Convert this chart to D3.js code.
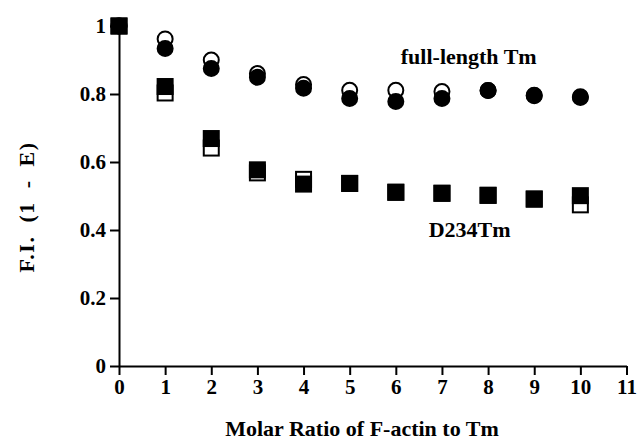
<!DOCTYPE html>
<html>
<head>
<meta charset="utf-8">
<script src="https://cdn.jsdelivr.net/npm/d3@7"></script>
<style>
  body { margin: 0; background: #fff; }
  text { font-family: "Liberation Serif", "Times New Roman", serif; font-weight: bold; }
</style>
</head>
<body>
<svg id="svg"></svg>
<script>
/**
 * CONSTANTS AND GLOBALS
 * */
const width = 637,
  height = 442,
  margin = { top: 26, bottom: 76, left: 119, right: 10 };

// molar ratio of F-actin to Tm
const ratio = [0, 1, 2, 3, 4, 5, 6, 7, 8, 9, 10];
// full-length Tm, open and filled circles
const fullOpen = [1.0, 0.962, 0.9, 0.86, 0.828, 0.811, 0.811, 0.807, 0.81, 0.795, 0.79];
const fullFilled = [1.0, 0.934, 0.875, 0.849, 0.817, 0.787, 0.778, 0.787, 0.81, 0.796, 0.792];
// D234Tm, open and filled squares
const d234Open = [1.0, 0.803, 0.641, 0.568, 0.549, 0.537, 0.511, 0.508, 0.502, 0.491, 0.474];
const d234Filled = [1.0, 0.822, 0.669, 0.577, 0.535, 0.537, 0.511, 0.508, 0.502, 0.491, 0.501];

const xTicks = [0, 1, 2, 3, 4, 5, 6, 7, 8, 9, 10, 11];
const yTicks = [0, 0.2, 0.4, 0.6, 0.8, 1];

const svg = d3.select("#svg")
  .attr("width", width)
  .attr("height", height);

const xScale = d3.scaleLinear()
  .domain([0, 11])
  .range([margin.left, width - margin.right - 0.5]);

const yScale = d3.scaleLinear()
  .domain([0, 1])
  .range([height - margin.bottom, margin.top]);

// axes
const xAxis = d3.axisBottom(xScale)
  .tickValues(xTicks)
  .tickFormat(d => d)
  .tickSize(9)
  .tickSizeOuter(0)
  .tickPadding(4);

const yAxis = d3.axisLeft(yScale)
  .tickValues(yTicks)
  .tickFormat(d => String(d))
  .tickSize(9)
  .tickSizeOuter(0)
  .tickPadding(4);

const gx = svg.append("g")
  .attr("transform", `translate(0,${yScale(0)})`)
  .call(xAxis);

const gy = svg.append("g")
  .attr("transform", `translate(${xScale(0)},0)`)
  .call(yAxis);

[gx, gy].forEach(g => {
  g.select(".domain").attr("stroke", "#000").attr("stroke-width", 2);
  g.selectAll(".tick line").attr("stroke", "#000").attr("stroke-width", 2);
  g.selectAll(".tick text")
    .attr("fill", "#000")
    .style("font-size", "21px")
    .style("font-family", "Liberation Serif, serif")
    .style("font-weight", "bold");
});
gx.selectAll(".tick text").attr("dy", "0.72em");

// data series
const rows = ratio.map((r, i) => ({
  r, fo: fullOpen[i], ff: fullFilled[i], dopen: d234Open[i], df: d234Filled[i]
}));

const circleR = 7.5;
const sq = 15;

function circles(key, fill) {
  svg.append("g")
    .selectAll("circle")
    .data(rows)
    .join("circle")
    .attr("cx", d => xScale(d.r))
    .attr("cy", d => yScale(d[key]))
    .attr("r", circleR)
    .attr("fill", fill)
    .attr("stroke", "#000")
    .attr("stroke-width", 2);
}

function squares(key, fill) {
  svg.append("g")
    .selectAll("rect")
    .data(rows)
    .join("rect")
    .attr("x", d => xScale(d.r) - sq / 2)
    .attr("y", d => yScale(d[key]) - sq / 2)
    .attr("width", sq)
    .attr("height", sq)
    .attr("fill", fill)
    .attr("stroke", "#000")
    .attr("stroke-width", 2);
}

circles("fo", "#fff");
circles("ff", "#000");
squares("dopen", "#fff");
squares("df", "#000");

// series labels
svg.append("text")
  .attr("x", xScale(7.58))
  .attr("y", yScale(0.888))
  .attr("text-anchor", "middle")
  .style("font-size", "22px")
  .text("full-length Tm");

svg.append("text")
  .attr("x", xScale(7.6))
  .attr("y", yScale(0.379))
  .attr("text-anchor", "middle")
  .style("font-size", "22px")
  .text("D234Tm");

// axis titles
svg.append("text")
  .attr("x", 362)
  .attr("y", 436)
  .attr("text-anchor", "middle")
  .style("font-size", "22px")
  .text("Molar Ratio of F-actin to Tm");

svg.append("text")
  .attr("transform", `translate(34,${207}) rotate(-90)`)
  .attr("text-anchor", "middle")
  .style("font-size", "22px")
  .style("letter-spacing", "1.5px")
  .style("word-spacing", "6px")
  .text("F.I. (1 - E)");
</script>
</body>
</html>
